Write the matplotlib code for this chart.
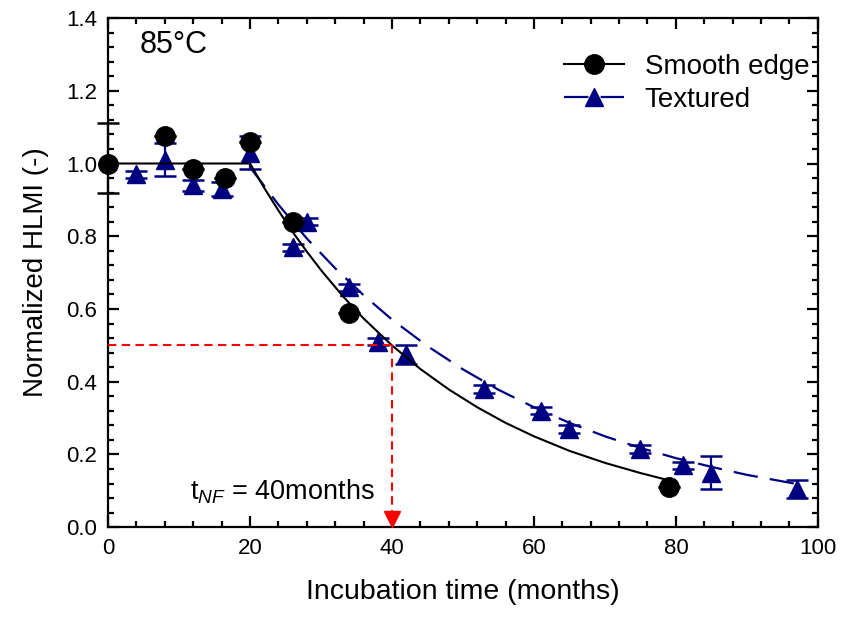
import numpy as np
import matplotlib
matplotlib.use("Agg")
import matplotlib.pyplot as plt
from matplotlib.ticker import MultipleLocator, FormatStrFormatter

plt.rcParams.update({
    "font.family": ["Liberation Sans", "DejaVu Sans"],
    "mathtext.fontset": "custom",
    "mathtext.rm": "Liberation Sans",
    "mathtext.it": "Liberation Sans:italic",
    "axes.linewidth": 1.6,
})

NAVY = "#000080"
RED = "#ff0000"

# measured data (months, normalized HLMI)
smooth_t = [0, 8, 12, 16.5, 20, 26, 34, 79]
smooth_y = [1.00, 1.075, 0.985, 0.96, 1.06, 0.84, 0.59, 0.11]
smooth_err_lo = [0.08, 0, 0, 0, 0, 0, 0, 0]
smooth_err_hi = [0.11, 0, 0, 0, 0, 0, 0, 0]

textured_t = [4, 8, 12, 16, 20, 26, 28, 34, 38, 42, 53, 61, 65, 75, 81, 85, 97]
textured_y = [0.97, 1.01, 0.94, 0.93, 1.03, 0.77, 0.84, 0.66, 0.51, 0.475,
              0.38, 0.32, 0.27, 0.215, 0.17, 0.15, 0.105]
textured_err = [0.01, 0.045, 0.015, 0.02, 0.045, 0.01, 0.01, 0.01, 0.01, 0.025,
                0.01, 0.01, 0.01, 0.01, 0.01, 0.045, 0.025]

# fitted curves
smooth_fit_t = [0, 20, 22, 24, 26, 28, 30, 33, 36, 40, 44, 48, 52, 56, 60,
                65, 70, 75, 79]
smooth_fit_y = [1.0, 1.0, 0.933, 0.871, 0.812, 0.758, 0.707, 0.637, 0.574,
                0.5, 0.435, 0.379, 0.330, 0.287, 0.25, 0.210, 0.177, 0.149, 0.129]
textured_fit_t = [20, 24, 28, 32, 36, 40, 45, 50, 55, 60, 65, 70, 75, 80, 85,
                  90, 97]
textured_fit_y = [0.99, 0.887, 0.794, 0.712, 0.638, 0.571, 0.498, 0.434, 0.378,
                  0.330, 0.287, 0.250, 0.218, 0.190, 0.166, 0.144, 0.119]

T_NF = 40
HALF = 0.5

fig = plt.figure(figsize=(8.44, 6.21), dpi=100)
ax = fig.add_axes([0.128, 0.151, 0.841, 0.820])

NAVY_DASH = (11, 5.5)
RED_DASH = (4, 2.6)

ax.plot(textured_fit_t, textured_fit_y, color=NAVY, lw=1.6,
        dashes=NAVY_DASH, zorder=2)
ax.errorbar(textured_t, textured_y, yerr=textured_err, fmt="^", color=NAVY,
            ms=13, capsize=8, capthick=1.8, elinewidth=1.6, zorder=3)
ax.plot(smooth_fit_t, smooth_fit_y, color="black", lw=1.5, zorder=4)
ax.errorbar(smooth_t, smooth_y, yerr=[smooth_err_lo, smooth_err_hi], fmt="o",
            color="black", ms=14, capsize=8, capthick=1.8, elinewidth=1.6,
            zorder=5, clip_on=False)

# t_NF marker
ax.plot([0, T_NF], [HALF, HALF], color=RED, lw=1.5, dashes=RED_DASH, zorder=6)
ax.plot([T_NF, T_NF], [HALF, 0.03], color=RED, lw=1.5, dashes=RED_DASH, zorder=6)
ax.plot([T_NF], [0.022], marker="v", color=RED, ms=11, zorder=7, clip_on=False)
ax.text(11.5, 0.075, r"t$_{NF}$ = 40months", fontsize=19.5, ha="left",
        va="baseline")
ax.text(4.4, 1.325, "85°C", fontsize=22, ha="left", va="center")

# legend handles
ax.plot([], [], color="black", lw=1.5, marker="o", ms=14, label="Smooth edge")
ax.plot([], [], color=NAVY, lw=1.6, dashes=NAVY_DASH, marker="^", ms=13,
        label="Textured")
handles, labels = ax.get_legend_handles_labels()
ax.legend(handles[-2:], labels[-2:], loc="upper right", frameon=False,
          fontsize=20, handlelength=2.15, handletextpad=0.75, labelspacing=0.25,
          borderaxespad=0.9, borderpad=0.4, bbox_to_anchor=(1.039, 1.0))

ax.set_xlim(0, 100)
ax.set_ylim(0, 1.4)
ax.xaxis.set_major_locator(MultipleLocator(20))
ax.xaxis.set_minor_locator(MultipleLocator(4))
ax.yaxis.set_major_locator(MultipleLocator(0.2))
ax.yaxis.set_minor_locator(MultipleLocator(0.04))
ax.yaxis.set_major_formatter(FormatStrFormatter("%.1f"))
ax.tick_params(which="both", direction="in", top=True, right=True,
               labelsize=16, width=1.6)
ax.tick_params(which="major", length=8, pad=8)
ax.tick_params(which="minor", length=4.5)

ax.set_xlabel("Incubation time (months)", fontsize=20.5, labelpad=14)
ax.set_ylabel("Normalized HLMI (-)", fontsize=20, labelpad=12)

fig.savefig("out.png", dpi=100, facecolor="white")
